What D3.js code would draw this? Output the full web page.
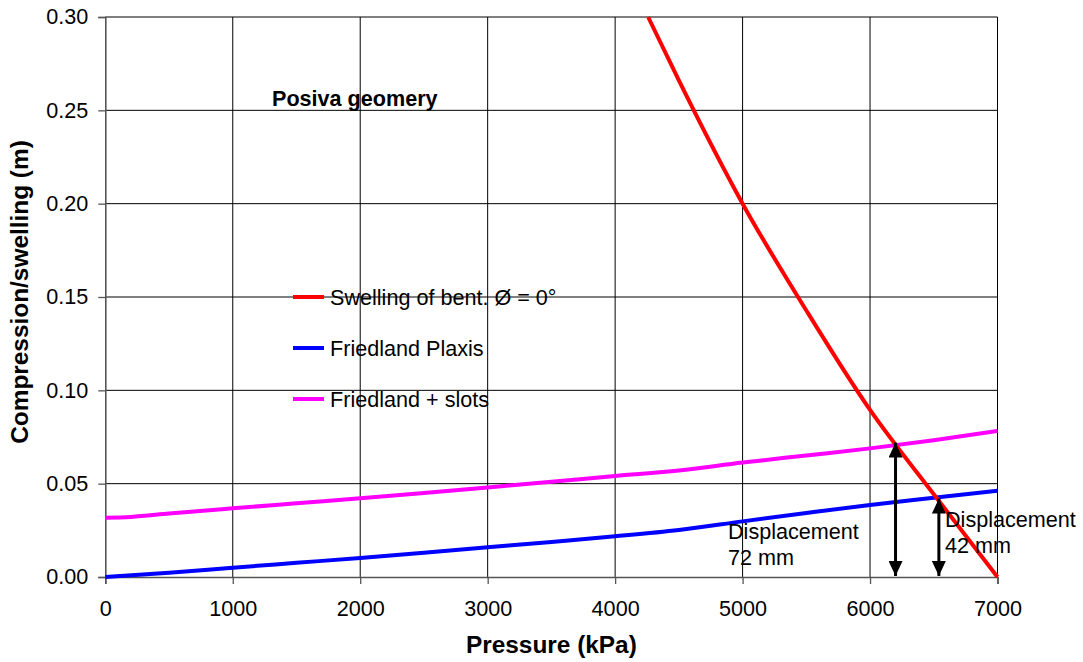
<!DOCTYPE html>
<html>
<head>
<meta charset="utf-8">
<script src="https://cdn.jsdelivr.net/npm/d3@7"></script>
<style>
  html, body { margin: 0; padding: 0; background: #fff; }
  svg { display: block; font-family: "Liberation Sans", Arial, Helvetica, sans-serif; }
</style>
</head>
<body>
<svg id="chart" width="1083" height="662"></svg>
<script>
// Pressure (kPa) sample points and the corresponding compression/swelling (m)
const swellPressure = [4259, 4500, 5000, 5500, 6000, 6500, 7000];
const swellValues   = [0.300, 0.266, 0.200, 0.1428, 0.0895, 0.0443, 0.000];

const plaxisPressure = [0, 500, 1000, 1500, 2000, 2500, 3000, 3500, 4000, 4500, 5000, 5500, 6000, 6500, 7000];
const plaxisValues   = [0.000, 0.0023, 0.0050, 0.0076, 0.0102, 0.0130, 0.0159, 0.0188, 0.0218, 0.0252, 0.0298, 0.0343, 0.0386, 0.0424, 0.0462];

const slotsPressure = [0, 200, 500, 1000, 1500, 2000, 2500, 3000, 3500, 4000, 4500, 5000, 5500, 6000, 6500, 7000];
const slotsValues   = [0.0318, 0.0322, 0.0340, 0.0368, 0.0395, 0.0422, 0.0450, 0.0480, 0.0510, 0.0541, 0.0570, 0.0613, 0.0651, 0.0689, 0.0733, 0.0782];

const seriesNames  = ["Swelling of bent. \u00D8 = 0\u00B0", "Friedland Plaxis", "Friedland + slots"];
const seriesColors = ["#ff0000", "#0000ff", "#ff00ff"];

// Displacement annotations: pressure position, displacement (m), text lines
const dispPressure = [6200, 6540];
const dispValues   = [0.072, 0.042];
const dispLabels   = [["Displacement", "72 mm"], ["Displacement", "42 mm"]];

const xTicks = [0, 1000, 2000, 3000, 4000, 5000, 6000, 7000];
const yTicks = [0, 0.05, 0.10, 0.15, 0.20, 0.25, 0.30];

const svg = d3.select("#chart");
const x = d3.scaleLinear().domain([0, 7000]).range([105.3, 997.5]);
const y = d3.scaleLinear().domain([0, 0.30]).range([577, 17]);

const FONT = 21.6;

// Grid
const grid = svg.append("g");
grid.selectAll("line.h").data(yTicks.filter(d => d > 0)).join("line")
  .attr("x1", x(0)).attr("x2", x(7000))
  .attr("y1", d => y(d)).attr("y2", d => y(d))
  .attr("stroke", "#000").attr("stroke-width", 1);
grid.selectAll("line.v").data(xTicks.filter(d => d > 0)).join("line")
  .attr("x1", d => x(d)).attr("x2", d => x(d))
  .attr("y1", y(0)).attr("y2", y(0.30))
  .attr("stroke", "#000").attr("stroke-width", 1);

// Axes
const yAxis = svg.append("g").attr("transform", `translate(${x(0)},0)`)
  .call(d3.axisLeft(y).tickValues(yTicks).tickFormat(d3.format(".2f")).tickSize(7).tickPadding(10));
const xAxis = svg.append("g").attr("transform", `translate(0,${y(0)})`)
  .call(d3.axisBottom(x).tickValues(xTicks).tickFormat(d3.format("d")).tickSize(7).tickPadding(17));
[xAxis, yAxis].forEach(a => {
  a.select(".domain").attr("stroke", "#555").attr("stroke-width", 1.6);
  a.selectAll(".tick line").attr("stroke", "#555").attr("stroke-width", 1.3);
  a.selectAll(".tick text").attr("fill", "#000").attr("font-size", FONT)
    .attr("font-family", "'Liberation Sans', Arial, sans-serif");
});

// Series
const line = d3.line().x(d => x(d[0])).y(d => y(d[1])).curve(d3.curveMonotoneX);
const series = [
  d3.zip(swellPressure, swellValues),
  d3.zip(plaxisPressure, plaxisValues),
  d3.zip(slotsPressure, slotsValues)
];
const drawOrder = [2, 1, 0];
drawOrder.forEach(i => {
  svg.append("path").datum(series[i])
    .attr("d", line)
    .attr("fill", "none")
    .attr("stroke", seriesColors[i])
    .attr("stroke-width", 4)
    .attr("stroke-linejoin", "round");
});

// Double-headed displacement arrows
const defs = svg.append("defs");
defs.append("marker").attr("id", "arrowHead")
  .attr("viewBox", "0 0 15 14").attr("refX", 15).attr("refY", 7)
  .attr("markerWidth", 15).attr("markerHeight", 14)
  .attr("markerUnits", "userSpaceOnUse").attr("orient", "auto-start-reverse")
  .append("path").attr("d", "M0,0 L15,7 L0,14 Z").attr("fill", "#000");

svg.selectAll("line.disp").data(dispPressure).join("line")
  .attr("x1", d => x(d)).attr("x2", d => x(d))
  .attr("y1", y(0) - 1).attr("y2", (d, i) => y(dispValues[i]))
  .attr("stroke", "#000").attr("stroke-width", 3)
  .attr("marker-start", "url(#arrowHead)")
  .attr("marker-end", "url(#arrowHead)");

// Annotation texts
const annPos = [[728, 539], [945, 527]];
dispLabels.forEach((lines, i) => {
  const t = svg.append("text").attr("x", annPos[i][0]).attr("y", annPos[i][1])
    .attr("font-size", FONT).attr("fill", "#000");
  lines.forEach((s, k) => {
    t.append("tspan").attr("x", annPos[i][0]).attr("dy", k === 0 ? 0 : 26).text(s);
  });
});

// Chart caption inside the plot
svg.append("text").attr("x", 272).attr("y", 106)
  .attr("font-size", FONT).attr("font-weight", "bold").attr("fill", "#000")
  .text("Posiva geomery");

// Legend
const legend = svg.append("g");
seriesNames.forEach((name, i) => {
  const ly = 297 + i * 51;
  legend.append("line").attr("x1", 293).attr("x2", 324).attr("y1", ly).attr("y2", ly)
    .attr("stroke", seriesColors[i]).attr("stroke-width", 4);
  legend.append("text").attr("x", 330).attr("y", ly).attr("dy", "0.36em")
    .attr("font-size", FONT).attr("fill", "#000").text(name);
});

// Axis titles
svg.append("text").attr("x", (x(0) + x(7000)) / 2).attr("y", 653)
  .attr("text-anchor", "middle").attr("font-size", 24.4).attr("font-weight", "bold")
  .text("Pressure (kPa)");
svg.append("text").attr("transform", `translate(28,${(y(0) + y(0.30)) / 2 - 5}) rotate(-90)`)
  .attr("text-anchor", "middle").attr("font-size", 24.4).attr("font-weight", "bold")
  .text("Compression/swelling (m)");
</script>
</body>
</html>
